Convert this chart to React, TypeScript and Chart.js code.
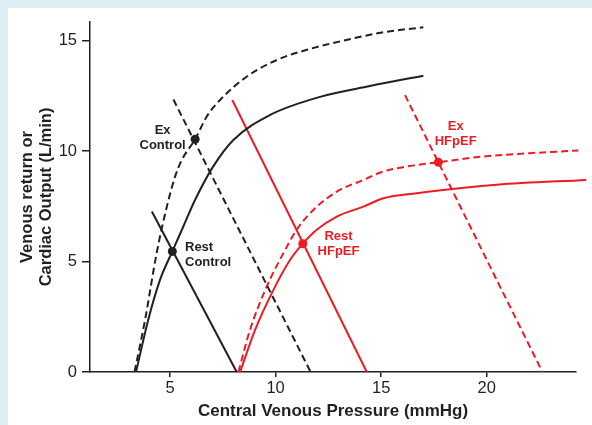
import React, { useEffect, useRef } from "react";
import { Chart, registerables } from "chart.js";

Chart.register(...registerables);

const BLACK = "#231f20";
const RED = "#ec1c24";
const PAGE_BG = "#dfeef5";
const FONT = "'Liberation Sans', Arial, Helvetica, sans-serif";

// Axis ticks
const xTicks = [5, 10, 15, 20];
const yTicks = [0, 5, 10, 15];

// Cardiac output curves (pressure mmHg, output L/min)
const restControlCOx = [3.39, 3.97, 4.53, 5.11, 5.63, 6.19, 7.04, 8.0, 9.74, 12.11, 14.47, 17.0];
const restControlCOy = [0, 2.37, 4.18, 5.46, 6.59, 7.8, 9.3, 10.51, 11.64, 12.46, 12.95, 13.42];

const exControlCOx = [3.32, 3.82, 4.37, 4.85, 5.24, 5.56, 6.19, 6.74, 7.37, 8.64, 10.06, 11.48, 13.69, 15.27, 17.0];
const exControlCOy = [0, 2.37, 5.4, 7.49, 8.85, 9.61, 10.54, 11.57, 12.32, 13.38, 14.13, 14.59, 15.11, 15.41, 15.61];

const restHFpEFCOx = [8.32, 9.03, 9.9, 10.69, 11.29, 11.95, 12.9, 14.16, 15.11, 16.69, 18.27, 20.48, 24.71];
const restHFpEFCOy = [0, 1.91, 3.72, 5.08, 5.81, 6.44, 7.04, 7.49, 7.87, 8.1, 8.28, 8.48, 8.7];

const exHFpEFCOx = [8.24, 8.79, 9.58, 10.37, 11.0, 11.79, 12.9, 14.16, 15.11, 16.37, 17.71, 19.84, 22.06, 24.34];
const exHFpEFCOy = [0, 1.91, 3.87, 5.38, 6.44, 7.34, 8.17, 8.7, 9.08, 9.33, 9.5, 9.76, 9.91, 10.03];

// Venous return lines (two end points each)
const restControlVRx = [4.14, 8.16];
const restControlVRy = [7.27, 0];
const exControlVRx = [5.16, 11.66];
const exControlVRy = [12.34, 0];
const restHFpEFVRx = [7.95, 14.32];
const restHFpEFVRy = [12.32, 0];
const exHFpEFVRx = [16.13, 22.64];
const exHFpEFVRy = [12.54, 0];

// Operating points
const controlPointX = [5.11, 6.19];
const controlPointY = [5.46, 10.54];
const hfpefPointX = [11.29, 17.71];
const hfpefPointY = [5.81, 9.5];

// Annotation labels
const labelLines = [["Ex", "Control"], ["Rest", "Control"], ["Rest", "HFpEF"], ["Ex", "HFpEF"]];
const labelX = [4.65, 5.71, 12.98, 18.53];
const labelY = [10.58, 5.3, 5.78, 10.76];
const labelColor = [BLACK, BLACK, RED, RED];
const labelAlign = ["center", "left", "center", "center"];

const zip = (xs: number[], ys: number[]) => xs.map((x, i) => ({ x, y: ys[i] }));

const bgPlugin = {
  id: "pageBg",
  beforeDraw(chart: any) {
    const ctx = chart.ctx;
    ctx.save();
    ctx.fillStyle = PAGE_BG;
    ctx.fillRect(0, 0, chart.width, chart.height);
    ctx.fillStyle = "#ffffff";
    ctx.fillRect(8, 8, chart.width - 8, chart.height - 8);
    ctx.restore();
  },
};

const labelPlugin = {
  id: "curveLabels",
  afterDatasetsDraw(chart: any) {
    const ctx = chart.ctx;
    const xs = chart.scales.x;
    const ys = chart.scales.y;
    ctx.save();
    ctx.font = `bold 13px ${FONT}`;
    ctx.textBaseline = "middle";
    labelLines.forEach((lines, i) => {
      const px = xs.getPixelForValue(labelX[i]);
      const py = ys.getPixelForValue(labelY[i]);
      ctx.fillStyle = labelColor[i];
      ctx.textAlign = labelAlign[i];
      const lh = 15;
      lines.forEach((t, j) => {
        ctx.fillText(t, px, py + (j - (lines.length - 1) / 2) * lh);
      });
    });
    ctx.restore();
  },
};

export default function App() {
  const ref = useRef<HTMLCanvasElement | null>(null);

  useEffect(() => {
    if (!ref.current) return;
    const lineDs = (label: string, xs: number[], ys: number[], color: string, dashed: boolean, smooth: boolean) => ({
      label,
      data: zip(xs, ys),
      showLine: true,
      borderColor: color,
      borderWidth: 2,
      borderDash: dashed ? [7, 4] : [],
      pointRadius: 0,
      fill: false,
      cubicInterpolationMode: smooth ? "monotone" : "default",
      tension: 0,
      clip: false,
    });
    const chart = new Chart(ref.current, {
      type: "scatter",
      data: {
        datasets: [
          {
            label: "Control points",
            data: zip(controlPointX, controlPointY),
            pointRadius: 4.5,
            pointBackgroundColor: BLACK,
            pointBorderWidth: 0,
            showLine: false,
            clip: false,
          } as any,
          {
            label: "HFpEF points",
            data: zip(hfpefPointX, hfpefPointY),
            pointRadius: 4.5,
            pointBackgroundColor: RED,
            pointBorderWidth: 0,
            showLine: false,
            clip: false,
          },
          lineDs("Rest Control CO", restControlCOx, restControlCOy, BLACK, false, true),
          lineDs("Ex Control CO", exControlCOx, exControlCOy, BLACK, true, true),
          lineDs("Rest Control VR", restControlVRx, restControlVRy, BLACK, false, false),
          lineDs("Ex Control VR", exControlVRx, exControlVRy, BLACK, true, false),
          lineDs("Rest HFpEF CO", restHFpEFCOx, restHFpEFCOy, RED, false, true),
          lineDs("Ex HFpEF CO", exHFpEFCOx, exHFpEFCOy, RED, true, true),
          lineDs("Rest HFpEF VR", restHFpEFVRx, restHFpEFVRy, RED, false, false),
          lineDs("Ex HFpEF VR", exHFpEFVRx, exHFpEFVRy, RED, true, false),
        ] as any,
      },
      options: {
        animation: false,
        responsive: false,
        devicePixelRatio: 1,
        layout: { padding: { left: 8, top: 22, right: 16, bottom: 0 } },
        plugins: { legend: { display: false }, tooltip: { enabled: false } },
        scales: {
          x: {
            type: "linear",
            min: 1.21,
            max: 24.23,
            afterBuildTicks: (s: any) => {
              s.ticks = xTicks.map((v) => ({ value: v }));
            },
            afterFit: (s: any) => {
              s.height = 53;
            },
            grid: { display: true, drawOnChartArea: false, drawTicks: true, tickLength: 5, color: BLACK, lineWidth: 1.5 },
            border: { display: true, color: BLACK, width: 1.5 },
            ticks: { color: BLACK, font: { family: FONT, size: 16.5 }, padding: 2, maxRotation: 0 },
            title: {
              display: true,
              text: "Central Venous Pressure (mmHg)",
              color: BLACK,
              font: { family: FONT, size: 17, weight: "bold", lineHeight: 1.2 },
              padding: { top: 0, bottom: 3.8 },
            },
          },
          y: {
            type: "linear",
            min: 0,
            max: 15.85,
            afterBuildTicks: (s: any) => {
              s.ticks = yTicks.map((v) => ({ value: v }));
            },
            afterFit: (s: any) => {
              s.width = 82;
            },
            grid: { display: true, drawOnChartArea: false, drawTicks: true, tickLength: 8, color: BLACK, lineWidth: 1.5 },
            border: { display: true, color: BLACK, width: 1.5 },
            ticks: { color: BLACK, font: { family: FONT, size: 16.5 }, padding: 5 },
            title: {
              display: true,
              text: ["Venous return or", "Cardiac Output (L/min)"],
              color: BLACK,
              font: { family: FONT, size: 16.5, weight: "bold", lineHeight: 19 / 16.5 },
              padding: { top: 9.5, bottom: 0 },
            },
          },
        },
      } as any,
      plugins: [bgPlugin, labelPlugin],
    });
    return () => chart.destroy();
  }, []);

  return (
    <div style={{ position: "fixed", left: 0, top: 0, width: 592, height: 425 }}>
      <canvas ref={ref} width={592} height={425} style={{ display: "block" }} />
    </div>
  );
}
